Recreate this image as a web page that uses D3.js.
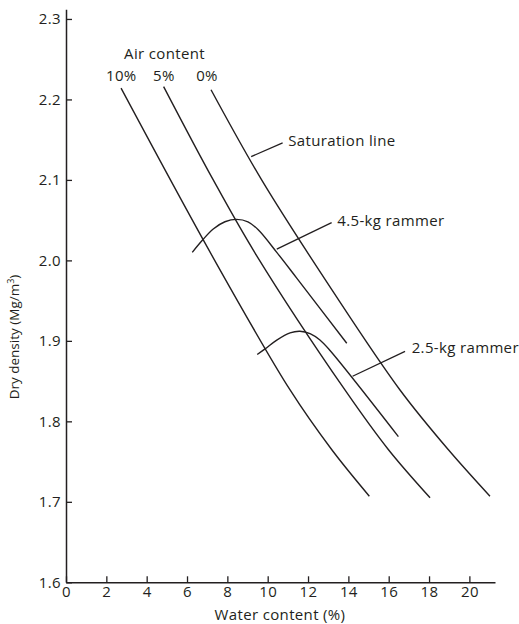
<!DOCTYPE html>
<html><head><meta charset="utf-8">
<script src="https://cdn.jsdelivr.net/npm/d3@7"></script>
<style>body{margin:0;background:#fff}text{font-family:"Open Sans",sans-serif;fill:#231f20}</style>
</head><body><svg id="c" width="519" height="624"></svg>
<script>
// Water content (%) / dry density (Mg/m3)
const xTicks = [0,2,4,6,8,10,12,14,16,18,20];
const yTicks = [1.6,1.7,1.8,1.9,2.0,2.1,2.2,2.3];
const air10 = [[2.73,2.214],[7.35,2.001],[11.11,1.839],[13.17,1.765],[15.04,1.707]];
const air5  = [[4.84,2.216],[7.30,2.100],[9.45,2.006],[13.83,1.839],[15.98,1.765],[18.05,1.705]];
const air0  = [[7.19,2.212],[9.70,2.100],[13.17,1.964],[16.56,1.839],[18.95,1.765],[21.02,1.707]];
const rammer45 = [[6.26,2.010],[6.76,2.025],[7.30,2.039],[7.88,2.048],[8.46,2.051],[9.02,2.048],[9.53,2.038],[10.45,2.010],[11.44,1.978],[13.92,1.897]];
const rammer25 = [[9.48,1.883],[9.87,1.890],[10.45,1.901],[11.11,1.910],[11.60,1.912],[12.10,1.909],[12.59,1.901],[13.09,1.888],[16.48,1.781]];
const airLabels = ["10%","5%","0%"];
const labelSat = "Saturation line", label45 = "4.5-kg rammer", label25 = "2.5-kg rammer";
// leader anchors: point on curve, elbow end, label start (data units)
const leaders = [
  {text: labelSat, from:[9.18,2.129], to:[10.74,2.146], lab:[11.02,2.149]},
  {text: label45,  from:[10.45,2.014], to:[13.17,2.047], lab:[13.45,2.049]},
  {text: label25,  from:[14.21,1.856], to:[16.81,1.887], lab:[17.14,1.891]}
];

const svg = d3.select("#c");
const x = d3.scaleLinear().domain([0,21.27]).range([66,495]);
const y = d3.scaleLinear().domain([1.6,2.312]).range([582.3,9.3]);
const ink = "#231f20";
const fs = 15, ls = "0.35px";

// axes
const gx = svg.append("g").attr("transform",`translate(0,${y(1.6)})`)
  .call(d3.axisBottom(x).tickValues(xTicks).tickSizeInner(-6).tickSizeOuter(0).tickPadding(4).tickFormat(d3.format("d")));
const gy = svg.append("g").attr("transform",`translate(${x(0)},0)`)
  .call(d3.axisLeft(y).tickValues(yTicks).tickSizeInner(-6).tickSizeOuter(0).tickPadding(5).tickFormat(d3.format(".1f")));
[gx,gy].forEach(g=>{
  g.select(".domain").attr("stroke",ink).attr("stroke-width",1.5);
  g.selectAll(".tick line").attr("stroke",ink).attr("stroke-width",1.3);
  g.selectAll(".tick text").attr("font-size",fs).attr("font-family","Open Sans").attr("fill",ink).attr("letter-spacing","0.4px");
});

const line = d3.line().x(d=>x(d[0])).y(d=>y(d[1])).curve(d3.curveCatmullRom);
[air10,air5,air0,rammer45,rammer25].forEach(s=>{
  svg.append("path").attr("d",line(s)).attr("fill","none").attr("stroke",ink).attr("stroke-width",1.4);
});

// leaders
leaders.forEach(l=>{
  svg.append("line").attr("x1",x(l.from[0])).attr("y1",y(l.from[1])).attr("x2",x(l.to[0])).attr("y2",y(l.to[1]))
    .attr("stroke",ink).attr("stroke-width",1.3);
  svg.append("text").attr("x",x(l.lab[0])).attr("y",y(l.lab[1])).attr("dy","0.35em")
    .attr("font-size",fs).attr("letter-spacing",ls).text(l.text);
});

// Air content labels
svg.append("text").attr("x",164.5).attr("y",53.3).attr("dy","0.35em").attr("text-anchor","middle").attr("font-size",fs).attr("letter-spacing",ls).text("Air content");
const labX = [121.3,163.8,207];
airLabels.forEach((t,i)=>{
  svg.append("text").attr("x",labX[i]).attr("y",76).attr("dy","0.35em").attr("text-anchor","middle").attr("font-size",fs).attr("letter-spacing",ls).text(t);
});

// axis titles
svg.append("text").attr("x",280).attr("y",615).attr("dy","0.35em").attr("text-anchor","middle").attr("font-size",fs).attr("letter-spacing",ls).text("Water content (%)");
const yt = svg.append("text").attr("transform","translate(14,337) rotate(-90)").attr("dy","0.35em").attr("text-anchor","middle").attr("font-size",13.5);
yt.append("tspan").text("Dry density (Mg/m");
yt.append("tspan").attr("font-size",9).attr("dy","-0.5em").text("3");
yt.append("tspan").attr("dy","0.33em").text(")");
</script></body></html>
